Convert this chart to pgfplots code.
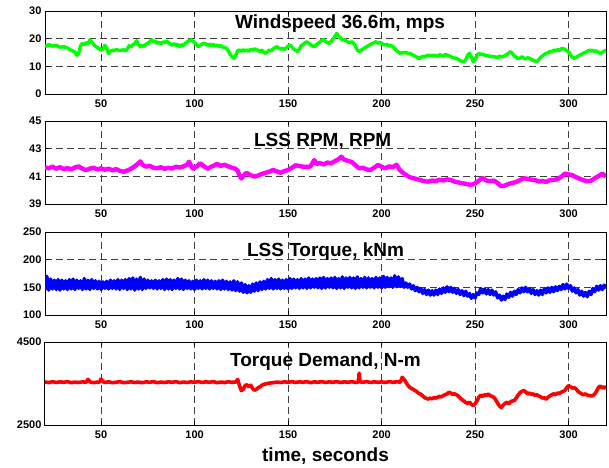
\documentclass[border=0pt]{standalone}
\usepackage{fontspec}
\setmainfont{Liberation Sans}
\usepackage{pgfplots}
\pgfplotsset{compat=1.18}

\definecolor{wgreen}{RGB}{0,255,0}
\definecolor{wmag}{RGB}{255,0,255}
\definecolor{wblue}{RGB}{0,0,255}
\definecolor{wred}{RGB}{255,0,0}

\pgfplotsset{
  panel/.style={
    scale only axis, width=561pt, height=83pt,
    anchor=north west,
    xmin=20, xmax=320, xtick={50,100,...,300},
    grid=major,
    major grid style={black!75, line width=0.7pt, dash pattern=on 7pt off 4pt},
    axis line style={line width=1pt},
    tick style={black, line width=0.7pt},
    tick align=inside, major tick length=4pt,
    ticklabel style={font=\fontsize{11}{11}\selectfont\bfseries},
    xticklabel style={yshift=-2pt},
    /pgf/number format/assume math mode=true,
    /pgf/number format/1000 sep={},
  },
}
\tikzset{ptitle/.style={font=\fontsize{19}{19}\selectfont\bfseries, anchor=center}}

\begin{document}
\begin{tikzpicture}
\path[use as bounding box] (-45pt,11pt) rectangle (564pt,-456pt);

% --- wind speed ---
\begin{axis}[panel, at={(0pt,0pt)}, ymin=0, ymax=30, ytick={0,10,20,30}]
\addplot[color=wgreen, line width=3.4pt, line join=round] coordinates {
(20,17.7)(21,17.2)(22,17.9)(24,17.3)(26,17.6)(28,16.9)(30,17.1)(32,16.6)(34,15.8)(36,15.2)
(37,14.0)(38,14.6)(39,17.4)(40,18.3)(41,17.8)(42,18.6)(43,18.2)(44,19.6)(45,18.8)(46,17.9)
(47,17.2)(48,16.8)(49,16.4)(50,15.9)(51,16.2)(52,17.6)(53,16.4)(54,14.6)(55,15.4)(56,15.9)
(57,15.6)(58,16.1)(60,15.7)(62,16.0)(63,15.6)(64,16.3)(65,17.5)(66,17.0)(67,17.8)(68,18.2)
(69,19.3)(70,18.0)(71,17.0)(72,17.6)(73,17.2)(74,18.0)(75,18.3)(76,18.9)(77,19.6)(78,18.8)
(79,19.2)(80,18.3)(81,18.7)(82,18.2)(83,18.8)(84,18.6)(85,19.2)(86,18.6)(87,18.0)(88,17.7)
(89,18.2)(90,17.6)(91,17.9)(92,17.1)(93,17.8)(94,17.6)(95,18.3)(96,18.8)(97,19.3)(98,19.6)
(99,19.2)(100,18.6)(101,17.8)(102,17.1)(103,17.6)(104,18.0)(105,18.4)(106,18.1)(107,17.6)(108,18.0)
(109,17.5)(110,17.9)(111,17.4)(112,17.7)(113,17.2)(114,17.5)(115,16.9)(116,16.8)(117,16.5)(118,15.6)
(119,14.4)(120,13.4)(121,12.9)(122,14.0)(123,15.6)(124,15.9)(125,15.5)(126,16.0)(127,15.6)(128,15.9)
(129,15.4)(130,16.2)(131,15.8)(132,16.3)(133,16.1)(134,15.7)(135,15.4)(136,15.9)(137,15.1)(138,14.7)
(139,15.3)(140,15.9)(141,15.6)(142,16.3)(143,16.8)(144,17.1)(145,16.6)(146,16.2)(147,16.5)(148,16.1)
(149,16.7)(150,17.3)(151,17.7)(152,17.0)(153,16.2)(154,15.8)(155,15.3)(156,16.2)(157,17.5)(158,17.9)
(159,18.5)(160,18.9)(161,18.4)(162,17.8)(163,17.4)(164,17.1)(165,17.7)(166,18.3)(167,18.8)(168,19.4)
(169,19.7)(170,19.0)(171,18.6)(172,18.3)(173,19.0)(174,19.8)(175,20.8)(176,21.9)(177,21.0)(178,20.2)
(179,19.5)(180,19.8)(181,19.2)(182,18.8)(183,18.5)(184,18.9)(185,18.3)(186,17.4)(187,15.9)(188,15.3)
(189,15.8)(190,16.3)(191,16.7)(192,17.1)(193,17.5)(194,17.9)(195,18.2)(196,18.6)(197,18.9)(198,18.4)
(199,18.7)(200,18.3)(201,17.9)(202,17.7)(203,17.9)(204,17.4)(205,17.6)(206,17.1)(207,16.5)(208,15.7)
(209,15.1)(210,14.7)(211,15.0)(212,14.8)(213,15.1)(214,14.6)(215,14.7)(216,14.3)(217,14.0)(218,13.6)
(219,13.3)(220,12.9)(221,13.2)(222,13.6)(223,13.3)(224,13.8)(225,14.0)(226,13.7)(227,14.1)(228,13.7)
(229,14.0)(230,13.6)(231,14.2)(232,14.0)(233,13.7)(234,14.3)(235,14.1)(236,13.8)(237,13.5)(238,13.2)
(239,13.0)(240,12.9)(241,12.5)(242,12.1)(243,11.8)(244,11.7)(245,12.4)(246,14.0)(247,14.7)(248,13.4)
(249,11.7)(250,12.6)(251,13.9)(252,14.7)(253,14.3)(254,14.4)(255,14.1)(256,13.8)(257,13.9)(258,13.5)
(259,13.6)(260,13.5)(262,13.2)(263,13.7)(264,13.4)(265,13.5)(266,13.9)(267,14.3)(268,14.8)(269,15.3)
(270,14.6)(271,13.7)(272,13.3)(273,12.8)(274,12.9)(275,13.5)(276,13.0)(277,12.7)(278,13.1)(279,12.9)
(280,12.5)(281,12.2)(282,11.9)(283,11.7)(284,12.4)(285,13.2)(286,13.8)(287,14.3)(288,14.7)(289,14.9)
(290,15.4)(291,15.2)(292,15.9)(293,15.6)(294,16.0)(295,15.8)(296,16.3)(297,16.5)(298,16.1)(299,15.6)
(300,15.3)(301,14.1)(302,13.2)(303,12.9)(304,13.3)(305,13.7)(306,14.1)(307,14.4)(308,14.8)(309,15.1)
(310,15.4)(311,15.9)(312,15.5)(313,15.8)(314,15.2)(315,15.6)(316,15.0)(317,14.7)(318,15.1)(319,15.5)
(320,15.7)
};
\node[ptitle] at (rel axis cs:0.526,0.843) {Windspeed 36.6m, mps};
\end{axis}

% --- low speed shaft speed ---
\begin{axis}[panel, at={(0pt,-110pt)}, ymin=39, ymax=45, ytick={39,41,43,45}]
\addplot[color=wmag, line width=4.4pt, line join=round] coordinates {
(20,41.65)(22,41.58)(24,41.70)(26,41.55)(28,41.66)(30,41.52)(32,41.60)(34,41.50)(36,41.64)(38,41.72)
(40,41.55)(42,41.45)(44,41.56)(46,41.62)(48,41.50)(50,41.58)(52,41.48)(54,41.55)(56,41.44)(58,41.52)
(60,41.40)(62,41.33)(64,41.42)(66,41.55)(68,41.72)(69,41.84)(70,41.95)(71,42.08)(72,41.85)(74,41.70)
(76,41.76)(78,41.62)(80,41.58)(82,41.66)(84,41.54)(86,41.62)(88,41.56)(90,41.70)(92,41.64)(94,41.72)
(96,41.84)(97,42.06)(98,41.80)(99,41.56)(101,41.70)(103,41.95)(105,41.72)(107,41.56)(109,41.70)(111,41.82)
(112,41.90)(114,41.76)(116,41.84)(118,41.72)(120,41.62)(122,41.54)(123,41.40)(124,41.10)(125,40.84)(126,41.00)
(127,41.18)(128,41.24)(130,41.08)(132,40.98)(134,41.06)(136,41.18)(138,41.26)(140,41.34)(142,41.46)(144,41.36)
(146,41.26)(148,41.38)(150,41.46)(152,41.62)(154,41.80)(156,41.74)(158,41.70)(160,41.68)(162,41.72)(164,42.18)
(165,41.90)(167,41.96)(169,41.86)(171,42.00)(173,41.94)(175,42.10)(177,42.24)(178.5,42.42)(180,42.20)(182,42.12)
(184,42.04)(186,41.80)(188,41.58)(190,41.62)(192,41.50)(194,41.46)(196,41.62)(198,41.82)(200,41.70)(202,41.58)
(204,41.72)(206,41.66)(208,41.84)(209.5,41.50)(211,41.30)(213,41.10)(215,40.94)(217,40.86)(219,40.80)(221,40.72)
(223,40.64)(225,40.62)(227,40.70)(229,40.66)(231,40.76)(233,40.70)(235,40.78)(237,40.74)(239,40.62)(241,40.56)
(243,40.50)(245,40.46)(247,40.40)(249,40.42)(251,40.58)(253,40.80)(254,40.88)(256,40.70)(258,40.64)(260,40.70)
(262,40.52)(264,40.28)(266,40.34)(268,40.46)(270,40.52)(272,40.60)(274,40.72)(276,40.86)(278,40.82)(280,40.76)
(282,40.74)(284,40.62)(286,40.66)(288,40.60)(290,40.72)(292,40.74)(294,40.80)(296,40.96)(298,41.20)(300,41.14)
(302,41.08)(304,40.94)(306,40.82)(308,40.72)(310,40.64)(312,40.68)(314,40.86)(316,41.02)(318,41.20)(320,40.98)
};
\node[ptitle] at (rel axis cs:0.495,0.75) {LSS RPM, RPM};
\end{axis}

% --- low speed shaft torque ---
\begin{axis}[panel, at={(0pt,-221pt)}, ymin=100, ymax=250, ytick={100,150,200,250}]
\addplot[color=wblue, line width=3.4pt, line join=round] coordinates {
(20,146)(21,170)(22,145)(23,165)(24,147)(25,163)(26,146)(27,164)(28,145)(29,163)
(30,147)(31,162)(32,146)(33,164)(34,147)(35,165)(36,146)(37,163)(38,148)(39,162)
(40,146)(41,166)(42,147)(43,163)(44,146)(45,164)(46,148)(47,162)(48,147)(49,161)
(50,146)(51,160)(52,148)(53,161)(54,147)(55,163)(56,148)(57,162)(58,147)(59,164)
(60,146)(61,163)(62,148)(63,164)(64,146)(65,166)(66,147)(67,167)(68,145)(69,165)
(70,147)(71,168)(72,146)(73,165)(74,148)(75,163)(76,149)(77,162)(78,148)(79,163)
(80,147)(81,162)(82,148)(83,164)(84,146)(85,165)(86,147)(87,164)(88,146)(89,163)
(90,148)(91,166)(92,147)(93,165)(94,146)(95,163)(96,148)(97,162)(98,147)(99,161)
(100,146)(101,163)(102,148)(103,162)(104,147)(105,164)(106,148)(107,163)(108,147)(109,162)
(110,148)(111,161)(112,147)(113,162)(114,146)(115,163)(116,147)(117,161)(118,146)(119,160)
(120,145)(121,162)(122,144)(123,160)(124,143)(125,158)(126,141)(127,155)(128,140)(129,153)
(130,141)(131,156)(132,143)(133,158)(134,144)(135,160)(136,146)(137,161)(138,147)(139,164)
(140,148)(141,166)(142,147)(143,164)(144,148)(145,165)(146,147)(147,163)(148,148)(149,164)
(150,147)(151,166)(152,148)(153,165)(154,149)(155,164)(156,148)(157,166)(158,149)(159,165)
(160,148)(161,167)(162,149)(163,165)(164,150)(165,166)(166,149)(167,167)(168,148)(169,168)
(170,149)(171,166)(172,150)(173,167)(174,149)(175,168)(176,148)(177,166)(178,149)(179,169)
(180,148)(181,167)(182,150)(183,168)(184,149)(185,167)(186,148)(187,169)(188,149)(189,166)
(190,150)(191,168)(192,149)(193,167)(194,150)(195,166)(196,149)(197,168)(198,150)(199,167)
(200,149)(201,170)(202,150)(203,168)(204,151)(205,167)(206,150)(207,171)(208,151)(209,169)
(210,152)(211,166)(212,150)(213,158)(214,150)(215,156)(216,147)(217,153)(218,144)(219,150)
(220,142)(221,148)(222,139)(223,146)(224,137)(225,145)(226,136)(227,144)(228,136)(229,145)
(230,137)(231,147)(232,139)(233,149)(234,141)(235,151)(236,142)(237,150)(238,141)(239,148)
(240,139)(241,146)(242,137)(243,144)(244,135)(245,143)(246,134)(247,139)(248,130)(249,137)
(250,131)(251,140)(252,137)(253,148)(254,140)(255,147)(256,138)(257,146)(258,137)(259,145)
(260,136)(261,142)(262,131)(263,136)(264,127)(265,134)(266,128)(267,138)(268,132)(269,141)
(270,134)(271,143)(272,137)(273,146)(274,140)(275,149)(276,142)(277,150)(278,142)(279,148)
(280,139)(281,146)(282,137)(283,144)(284,136)(285,145)(286,137)(287,147)(288,140)(289,149)
(290,141)(291,150)(292,142)(293,151)(294,144)(295,152)(296,146)(297,155)(298,147)(299,156)
(300,148)(301,153)(302,143)(303,149)(304,140)(305,146)(306,136)(307,143)(308,134)(309,141)
(310,133)(311,143)(312,137)(313,148)(314,142)(315,152)(316,145)(317,153)(318,146)(319,154)
(320,148)
};
\node[ptitle] at (rel axis cs:0.5,0.76) {LSS Torque, kNm};
\end{axis}

% --- torque demand ---
\begin{axis}[panel, at={(0pt,-331pt)}, ymin=2500, ymax=4500, ytick={2500,4500},
  xlabel={time, seconds},
  xlabel style={at={(rel axis cs:0.5,0)}, anchor=base, yshift=-36pt,
                font=\fontsize{19}{19}\selectfont\bfseries}]
\addplot[color=wred, line width=3.6pt, line join=round] coordinates {
(20,3540)(22,3520)(24,3545)(26,3525)(28,3540)(30,3530)(32,3545)(34,3520)(36,3535)(38,3525)
(40,3540)(42,3530)(43,3600)(44,3540)(46,3520)(48,3535)(49,3530)(50,3610)(51,3545)(52,3525)
(54,3540)(56,3520)(58,3530)(60,3545)(62,3520)(64,3530)(66,3540)(68,3525)(70,3535)(72,3520)
(74,3540)(76,3530)(78,3545)(80,3520)(82,3535)(84,3525)(86,3540)(88,3530)(90,3545)(92,3520)
(94,3535)(96,3525)(98,3540)(100,3530)(102,3545)(104,3525)(106,3540)(108,3530)(110,3545)(112,3520)
(114,3535)(116,3525)(118,3540)(120,3530)(122,3535)(123,3600)(124,3450)(125,3330)(126,3360)(127,3450)
(128,3470)(129,3420)(130,3460)(131,3380)(132,3340)(133,3360)(134,3400)(135,3420)(136,3460)(137,3480)
(138,3490)(140,3510)(142,3520)(144,3535)(146,3525)(148,3540)(150,3530)(152,3545)(154,3525)(156,3540)
(158,3530)(160,3545)(162,3520)(164,3540)(166,3530)(168,3545)(170,3525)(172,3540)(174,3530)(176,3545)
(178,3525)(180,3540)(182,3530)(184,3545)(186,3525)(187.5,3530)(188,3750)(188.5,3540)(190,3530)(192,3545)
(194,3525)(196,3540)(198,3530)(200,3540)(202,3525)(204,3545)(206,3530)(208,3540)(210,3535)(211,3650)
(212,3600)(213,3530)(214,3460)(215,3410)(216,3380)(218,3330)(220,3260)(221,3240)(222,3200)(223,3160)
(224,3140)(225,3125)(226,3150)(227,3130)(228,3160)(229,3150)(230,3170)(231,3190)(232,3180)(233,3210)
(234,3230)(235,3250)(236,3290)(237,3270)(238,3240)(239,3250)(240,3230)(241,3200)(242,3150)(243,3110)
(244,3080)(245,3040)(246,3020)(247,3050)(248,3000)(249,2970)(250,3010)(251,3080)(252,3170)(253,3220)
(254,3190)(255,3230)(256,3210)(257,3250)(258,3210)(259,3190)(260,3170)(261,3110)(262,3030)(263,2960)
(264,2920)(265,2980)(266,3020)(267,3050)(268,3010)(269,3060)(270,3080)(271,3090)(272,3150)(273,3220)
(274,3280)(275,3310)(276,3330)(277,3300)(278,3250)(279,3270)(280,3240)(281,3250)(282,3210)(283,3230)
(284,3200)(285,3180)(286,3150)(287,3160)(288,3120)(289,3170)(290,3200)(291,3230)(292,3250)(293,3230)
(294,3270)(295,3260)(296,3290)(297,3310)(298,3330)(299,3400)(300,3450)(301,3420)(302,3390)(303,3400)
(304,3370)(305,3310)(306,3280)(307,3250)(308,3230)(309,3250)(310,3220)(311,3210)(312,3200)(313,3210)
(314,3250)(315,3320)(316,3410)(317,3440)(318,3390)(319,3420)(320,3380)
};
\node[ptitle] at (rel axis cs:0.5,0.77) {Torque Demand, N-m};
\end{axis}
\end{tikzpicture}
\end{document}
